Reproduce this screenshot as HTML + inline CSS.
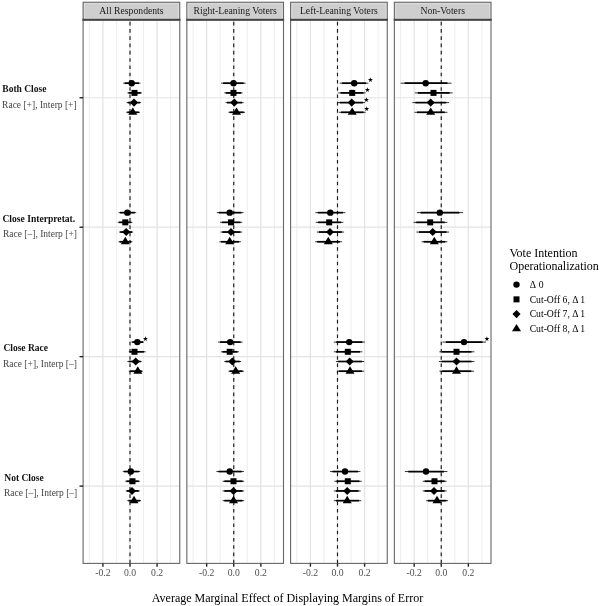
<!DOCTYPE html>
<html><head><meta charset="utf-8"><title>Average Marginal Effect of Displaying Margins of Error</title>
<style>html,body{margin:0;padding:0;background:#fff}svg{display:block}text{font-family:"Liberation Serif","Times New Roman",serif}</style></head><body>
<svg width="600" height="606" viewBox="0 0 600 606">
<rect width="600" height="606" fill="#fff"/>
<g>
<rect x="83.1" y="19.75" width="96.65" height="543.65" fill="#fff"/>
<line x1="89.35" x2="89.35" y1="19.75" y2="563.4" stroke="#e6e6e6" stroke-width="0.7"/>
<line x1="116.45" x2="116.45" y1="19.75" y2="563.4" stroke="#e6e6e6" stroke-width="0.7"/>
<line x1="143.55" x2="143.55" y1="19.75" y2="563.4" stroke="#e6e6e6" stroke-width="0.7"/>
<line x1="170.65" x2="170.65" y1="19.75" y2="563.4" stroke="#e6e6e6" stroke-width="0.7"/>
<line x1="102.90" x2="102.90" y1="19.75" y2="563.4" stroke="#e3e3e3" stroke-width="1.2"/>
<line x1="130.00" x2="130.00" y1="19.75" y2="563.4" stroke="#e3e3e3" stroke-width="1.2"/>
<line x1="157.10" x2="157.10" y1="19.75" y2="563.4" stroke="#e3e3e3" stroke-width="1.2"/>
<line x1="83.1" x2="179.75" y1="97.75" y2="97.75" stroke="#e3e3e3" stroke-width="1.2"/>
<line x1="83.1" x2="179.75" y1="227.2" y2="227.2" stroke="#e3e3e3" stroke-width="1.2"/>
<line x1="83.1" x2="179.75" y1="356.65" y2="356.65" stroke="#e3e3e3" stroke-width="1.2"/>
<line x1="83.1" x2="179.75" y1="486.1" y2="486.1" stroke="#e3e3e3" stroke-width="1.2"/>
<line x1="130.0" x2="130.0" y1="563.4" y2="19.75" stroke="#1a1a1a" stroke-width="1.15" stroke-dasharray="3.635 3.635"/>
<line x1="123.30" x2="140.40" y1="83.19" y2="83.19" stroke="#000" stroke-width="0.8"/>
<line x1="124.64" x2="139.01" y1="83.19" y2="83.19" stroke="#000" stroke-width="1.7"/>
<circle cx="131.70" cy="83.19" r="3.20"/>
<line x1="127.40" x2="141.90" y1="92.90" y2="92.90" stroke="#000" stroke-width="0.8"/>
<line x1="128.54" x2="140.72" y1="92.90" y2="92.90" stroke="#000" stroke-width="1.7"/>
<rect x="131.50" y="89.90" width="6.00" height="6.00"/>
<line x1="126.60" x2="141.10" y1="102.60" y2="102.60" stroke="#000" stroke-width="0.8"/>
<line x1="127.78" x2="139.96" y1="102.60" y2="102.60" stroke="#000" stroke-width="1.7"/>
<path d="M129.95 102.60L134.00 98.55L138.05 102.60L134.00 106.65Z"/>
<line x1="126.30" x2="139.90" y1="112.31" y2="112.31" stroke="#000" stroke-width="0.8"/>
<line x1="127.34" x2="138.76" y1="112.31" y2="112.31" stroke="#000" stroke-width="1.7"/>
<path d="M128.30 114.81L132.80 107.41L137.30 114.81Z"/>
<line x1="118.60" x2="136.20" y1="212.64" y2="212.64" stroke="#000" stroke-width="0.8"/>
<line x1="119.99" x2="134.78" y1="212.64" y2="212.64" stroke="#000" stroke-width="1.7"/>
<circle cx="127.30" cy="212.64" r="3.20"/>
<line x1="117.80" x2="132.40" y1="222.35" y2="222.35" stroke="#000" stroke-width="0.8"/>
<line x1="119.00" x2="131.26" y1="222.35" y2="222.35" stroke="#000" stroke-width="1.7"/>
<rect x="122.30" y="219.35" width="6.00" height="6.00"/>
<line x1="119.10" x2="133.20" y1="232.05" y2="232.05" stroke="#000" stroke-width="0.8"/>
<line x1="120.24" x2="132.08" y1="232.05" y2="232.05" stroke="#000" stroke-width="1.7"/>
<path d="M122.15 232.05L126.20 228.00L130.25 232.05L126.20 236.10Z"/>
<line x1="118.60" x2="132.40" y1="241.76" y2="241.76" stroke="#000" stroke-width="0.8"/>
<line x1="119.67" x2="131.26" y1="241.76" y2="241.76" stroke="#000" stroke-width="1.7"/>
<path d="M120.80 244.26L125.30 236.86L129.80 244.26Z"/>
<line x1="131.30" x2="144.10" y1="342.09" y2="342.09" stroke="#000" stroke-width="0.8"/>
<line x1="132.26" x2="143.01" y1="342.09" y2="342.09" stroke="#000" stroke-width="1.7"/>
<circle cx="137.30" cy="342.09" r="3.20"/>
<text x="145.30" y="341.00" font-size="6.5" text-anchor="middle" fill="#000" style="font-family:'DejaVu Sans',sans-serif">★</text>
<line x1="128.80" x2="145.70" y1="351.80" y2="351.80" stroke="#000" stroke-width="0.8"/>
<line x1="129.71" x2="143.91" y1="351.80" y2="351.80" stroke="#000" stroke-width="1.7"/>
<rect x="131.50" y="348.80" width="6.00" height="6.00"/>
<line x1="127.40" x2="141.60" y1="361.50" y2="361.50" stroke="#000" stroke-width="0.8"/>
<line x1="128.73" x2="140.66" y1="361.50" y2="361.50" stroke="#000" stroke-width="1.7"/>
<path d="M131.65 361.50L135.70 357.45L139.75 361.50L135.70 365.55Z"/>
<line x1="128.80" x2="142.70" y1="371.21" y2="371.21" stroke="#000" stroke-width="0.8"/>
<line x1="130.24" x2="141.92" y1="371.21" y2="371.21" stroke="#000" stroke-width="1.7"/>
<path d="M133.30 373.71L137.80 366.31L142.30 373.71Z"/>
<line x1="122.80" x2="140.20" y1="471.54" y2="471.54" stroke="#000" stroke-width="0.8"/>
<line x1="124.08" x2="138.70" y1="471.54" y2="471.54" stroke="#000" stroke-width="1.7"/>
<circle cx="130.80" cy="471.54" r="3.20"/>
<line x1="125.30" x2="139.90" y1="481.25" y2="481.25" stroke="#000" stroke-width="0.8"/>
<line x1="126.45" x2="138.72" y1="481.25" y2="481.25" stroke="#000" stroke-width="1.7"/>
<rect x="129.50" y="478.25" width="6.00" height="6.00"/>
<line x1="125.80" x2="139.90" y1="490.95" y2="490.95" stroke="#000" stroke-width="0.8"/>
<line x1="126.79" x2="138.64" y1="490.95" y2="490.95" stroke="#000" stroke-width="1.7"/>
<path d="M127.95 490.95L132.00 486.90L136.05 490.95L132.00 495.00Z"/>
<line x1="127.40" x2="141.10" y1="500.66" y2="500.66" stroke="#000" stroke-width="0.8"/>
<line x1="128.46" x2="139.96" y1="500.66" y2="500.66" stroke="#000" stroke-width="1.7"/>
<path d="M129.50 503.16L134.00 495.76L138.50 503.16Z"/>
<rect x="83.1" y="19.75" width="96.65" height="543.65" fill="none" stroke="#666" stroke-width="1.1"/>
<rect x="83.1" y="2.25" width="96.65" height="17.5" fill="#cecece" stroke="#666" stroke-width="1.1"/>
<rect x="84.45" y="3.70" width="93.95" height="14.60" fill="none" stroke="#dedede" stroke-width="0.9"/>
<line x1="82.5" x2="180.35" y1="19.75" y2="19.75" stroke="#444" stroke-width="1.9"/>
<text x="131.43" y="14" font-size="9.7" text-anchor="middle" fill="#1a1a1a">All Respondents</text>
<line x1="102.90" x2="102.90" y1="563.4" y2="566.6999999999999" stroke="#222" stroke-width="1.4"/>
<text x="102.90" y="575.6" font-size="9.7" text-anchor="middle" fill="#4d4d4d">-0.2</text>
<line x1="130.00" x2="130.00" y1="563.4" y2="566.6999999999999" stroke="#222" stroke-width="1.4"/>
<text x="130.00" y="575.6" font-size="9.7" text-anchor="middle" fill="#4d4d4d">0.0</text>
<line x1="157.10" x2="157.10" y1="563.4" y2="566.6999999999999" stroke="#222" stroke-width="1.4"/>
<text x="157.10" y="575.6" font-size="9.7" text-anchor="middle" fill="#4d4d4d">0.2</text>
</g>
<g>
<rect x="186.85" y="19.75" width="96.65" height="543.65" fill="#fff"/>
<line x1="193.10" x2="193.10" y1="19.75" y2="563.4" stroke="#e6e6e6" stroke-width="0.7"/>
<line x1="220.20" x2="220.20" y1="19.75" y2="563.4" stroke="#e6e6e6" stroke-width="0.7"/>
<line x1="247.30" x2="247.30" y1="19.75" y2="563.4" stroke="#e6e6e6" stroke-width="0.7"/>
<line x1="274.40" x2="274.40" y1="19.75" y2="563.4" stroke="#e6e6e6" stroke-width="0.7"/>
<line x1="206.65" x2="206.65" y1="19.75" y2="563.4" stroke="#e3e3e3" stroke-width="1.2"/>
<line x1="233.75" x2="233.75" y1="19.75" y2="563.4" stroke="#e3e3e3" stroke-width="1.2"/>
<line x1="260.85" x2="260.85" y1="19.75" y2="563.4" stroke="#e3e3e3" stroke-width="1.2"/>
<line x1="186.85" x2="283.5" y1="97.75" y2="97.75" stroke="#e3e3e3" stroke-width="1.2"/>
<line x1="186.85" x2="283.5" y1="227.2" y2="227.2" stroke="#e3e3e3" stroke-width="1.2"/>
<line x1="186.85" x2="283.5" y1="356.65" y2="356.65" stroke="#e3e3e3" stroke-width="1.2"/>
<line x1="186.85" x2="283.5" y1="486.1" y2="486.1" stroke="#e3e3e3" stroke-width="1.2"/>
<line x1="233.75" x2="233.75" y1="563.4" y2="19.75" stroke="#1a1a1a" stroke-width="1.15" stroke-dasharray="3.635 3.635"/>
<line x1="221.10" x2="245.60" y1="83.19" y2="83.19" stroke="#000" stroke-width="0.8"/>
<line x1="223.08" x2="243.66" y1="83.19" y2="83.19" stroke="#000" stroke-width="1.7"/>
<circle cx="233.50" cy="83.19" r="3.20"/>
<line x1="224.30" x2="242.60" y1="92.90" y2="92.90" stroke="#000" stroke-width="0.8"/>
<line x1="225.77" x2="241.14" y1="92.90" y2="92.90" stroke="#000" stroke-width="1.7"/>
<rect x="230.50" y="89.90" width="6.00" height="6.00"/>
<line x1="225.60" x2="243.60" y1="102.60" y2="102.60" stroke="#000" stroke-width="0.8"/>
<line x1="226.99" x2="242.11" y1="102.60" y2="102.60" stroke="#000" stroke-width="1.7"/>
<path d="M230.25 102.60L234.30 98.55L238.35 102.60L234.30 106.65Z"/>
<line x1="228.40" x2="245.10" y1="112.31" y2="112.31" stroke="#000" stroke-width="0.8"/>
<line x1="229.70" x2="243.72" y1="112.31" y2="112.31" stroke="#000" stroke-width="1.7"/>
<path d="M232.00 114.81L236.50 107.41L241.00 114.81Z"/>
<line x1="216.80" x2="243.60" y1="212.64" y2="212.64" stroke="#000" stroke-width="0.8"/>
<line x1="218.86" x2="241.38" y1="212.64" y2="212.64" stroke="#000" stroke-width="1.7"/>
<circle cx="229.70" cy="212.64" r="3.20"/>
<line x1="220.10" x2="242.20" y1="222.35" y2="222.35" stroke="#000" stroke-width="0.8"/>
<line x1="221.84" x2="240.41" y1="222.35" y2="222.35" stroke="#000" stroke-width="1.7"/>
<rect x="228.00" y="219.35" width="6.00" height="6.00"/>
<line x1="220.60" x2="242.20" y1="232.05" y2="232.05" stroke="#000" stroke-width="0.8"/>
<line x1="222.26" x2="240.41" y1="232.05" y2="232.05" stroke="#000" stroke-width="1.7"/>
<path d="M226.95 232.05L231.00 228.00L235.05 232.05L231.00 236.10Z"/>
<line x1="219.40" x2="240.90" y1="241.76" y2="241.76" stroke="#000" stroke-width="0.8"/>
<line x1="221.05" x2="239.11" y1="241.76" y2="241.76" stroke="#000" stroke-width="1.7"/>
<path d="M225.20 244.26L229.70 236.86L234.20 244.26Z"/>
<line x1="218.10" x2="242.60" y1="342.09" y2="342.09" stroke="#000" stroke-width="0.8"/>
<line x1="220.04" x2="240.62" y1="342.09" y2="342.09" stroke="#000" stroke-width="1.7"/>
<circle cx="230.20" cy="342.09" r="3.20"/>
<line x1="221.10" x2="238.90" y1="351.80" y2="351.80" stroke="#000" stroke-width="0.8"/>
<line x1="222.48" x2="237.43" y1="351.80" y2="351.80" stroke="#000" stroke-width="1.7"/>
<rect x="226.70" y="348.80" width="6.00" height="6.00"/>
<line x1="224.30" x2="241.10" y1="361.50" y2="361.50" stroke="#000" stroke-width="0.8"/>
<line x1="225.58" x2="239.69" y1="361.50" y2="361.50" stroke="#000" stroke-width="1.7"/>
<path d="M228.25 361.50L232.30 357.45L236.35 361.50L232.30 365.55Z"/>
<line x1="228.40" x2="243.90" y1="371.21" y2="371.21" stroke="#000" stroke-width="0.8"/>
<line x1="229.57" x2="242.59" y1="371.21" y2="371.21" stroke="#000" stroke-width="1.7"/>
<path d="M231.20 373.71L235.70 366.31L240.20 373.71Z"/>
<line x1="216.40" x2="243.90" y1="471.54" y2="471.54" stroke="#000" stroke-width="0.8"/>
<line x1="218.53" x2="241.63" y1="471.54" y2="471.54" stroke="#000" stroke-width="1.7"/>
<circle cx="229.70" cy="471.54" r="3.20"/>
<line x1="222.60" x2="244.20" y1="481.25" y2="481.25" stroke="#000" stroke-width="0.8"/>
<line x1="224.34" x2="242.49" y1="481.25" y2="481.25" stroke="#000" stroke-width="1.7"/>
<rect x="230.50" y="478.25" width="6.00" height="6.00"/>
<line x1="222.60" x2="244.20" y1="490.95" y2="490.95" stroke="#000" stroke-width="0.8"/>
<line x1="224.34" x2="242.49" y1="490.95" y2="490.95" stroke="#000" stroke-width="1.7"/>
<path d="M229.45 490.95L233.50 486.90L237.55 490.95L233.50 495.00Z"/>
<line x1="222.60" x2="244.20" y1="500.66" y2="500.66" stroke="#000" stroke-width="0.8"/>
<line x1="224.34" x2="242.49" y1="500.66" y2="500.66" stroke="#000" stroke-width="1.7"/>
<path d="M229.00 503.16L233.50 495.76L238.00 503.16Z"/>
<rect x="186.85" y="19.75" width="96.65" height="543.65" fill="none" stroke="#666" stroke-width="1.1"/>
<rect x="186.85" y="2.25" width="96.65" height="17.5" fill="#cecece" stroke="#666" stroke-width="1.1"/>
<rect x="188.20" y="3.70" width="93.95" height="14.60" fill="none" stroke="#dedede" stroke-width="0.9"/>
<line x1="186.25" x2="284.1" y1="19.75" y2="19.75" stroke="#444" stroke-width="1.9"/>
<text x="235.18" y="14" font-size="9.7" text-anchor="middle" fill="#1a1a1a">Right-Leaning Voters</text>
<line x1="206.65" x2="206.65" y1="563.4" y2="566.6999999999999" stroke="#222" stroke-width="1.4"/>
<text x="206.65" y="575.6" font-size="9.7" text-anchor="middle" fill="#4d4d4d">-0.2</text>
<line x1="233.75" x2="233.75" y1="563.4" y2="566.6999999999999" stroke="#222" stroke-width="1.4"/>
<text x="233.75" y="575.6" font-size="9.7" text-anchor="middle" fill="#4d4d4d">0.0</text>
<line x1="260.85" x2="260.85" y1="563.4" y2="566.6999999999999" stroke="#222" stroke-width="1.4"/>
<text x="260.85" y="575.6" font-size="9.7" text-anchor="middle" fill="#4d4d4d">0.2</text>
</g>
<g>
<rect x="290.6" y="19.75" width="96.65" height="543.65" fill="#fff"/>
<line x1="296.85" x2="296.85" y1="19.75" y2="563.4" stroke="#e6e6e6" stroke-width="0.7"/>
<line x1="323.95" x2="323.95" y1="19.75" y2="563.4" stroke="#e6e6e6" stroke-width="0.7"/>
<line x1="351.05" x2="351.05" y1="19.75" y2="563.4" stroke="#e6e6e6" stroke-width="0.7"/>
<line x1="378.15" x2="378.15" y1="19.75" y2="563.4" stroke="#e6e6e6" stroke-width="0.7"/>
<line x1="310.40" x2="310.40" y1="19.75" y2="563.4" stroke="#e3e3e3" stroke-width="1.2"/>
<line x1="337.50" x2="337.50" y1="19.75" y2="563.4" stroke="#e3e3e3" stroke-width="1.2"/>
<line x1="364.60" x2="364.60" y1="19.75" y2="563.4" stroke="#e3e3e3" stroke-width="1.2"/>
<line x1="290.6" x2="387.25" y1="97.75" y2="97.75" stroke="#e3e3e3" stroke-width="1.2"/>
<line x1="290.6" x2="387.25" y1="227.2" y2="227.2" stroke="#e3e3e3" stroke-width="1.2"/>
<line x1="290.6" x2="387.25" y1="356.65" y2="356.65" stroke="#e3e3e3" stroke-width="1.2"/>
<line x1="290.6" x2="387.25" y1="486.1" y2="486.1" stroke="#e3e3e3" stroke-width="1.2"/>
<line x1="337.5" x2="337.5" y1="563.4" y2="19.75" stroke="#1a1a1a" stroke-width="1.15" stroke-dasharray="3.635 3.635"/>
<line x1="339.60" x2="368.40" y1="83.19" y2="83.19" stroke="#000" stroke-width="0.8"/>
<line x1="341.94" x2="366.13" y1="83.19" y2="83.19" stroke="#000" stroke-width="1.7"/>
<circle cx="354.20" cy="83.19" r="3.20"/>
<text x="370.50" y="82.00" font-size="6.5" text-anchor="middle" fill="#000" style="font-family:'DejaVu Sans',sans-serif">★</text>
<line x1="338.30" x2="365.70" y1="92.90" y2="92.90" stroke="#000" stroke-width="0.8"/>
<line x1="340.52" x2="363.54" y1="92.90" y2="92.90" stroke="#000" stroke-width="1.7"/>
<rect x="349.20" y="89.90" width="6.00" height="6.00"/>
<text x="367.50" y="92.00" font-size="6.5" text-anchor="middle" fill="#000" style="font-family:'DejaVu Sans',sans-serif">★</text>
<line x1="337.40" x2="365.10" y1="102.60" y2="102.60" stroke="#000" stroke-width="0.8"/>
<line x1="339.69" x2="362.96" y1="102.60" y2="102.60" stroke="#000" stroke-width="1.7"/>
<path d="M347.65 102.60L351.70 98.55L355.75 102.60L351.70 106.65Z"/>
<text x="366.30" y="101.70" font-size="6.5" text-anchor="middle" fill="#000" style="font-family:'DejaVu Sans',sans-serif">★</text>
<line x1="338.80" x2="365.70" y1="112.31" y2="112.31" stroke="#000" stroke-width="0.8"/>
<line x1="340.94" x2="363.54" y1="112.31" y2="112.31" stroke="#000" stroke-width="1.7"/>
<path d="M347.70 114.81L352.20 107.41L356.70 114.81Z"/>
<text x="366.70" y="111.20" font-size="6.5" text-anchor="middle" fill="#000" style="font-family:'DejaVu Sans',sans-serif">★</text>
<line x1="315.40" x2="345.40" y1="212.64" y2="212.64" stroke="#000" stroke-width="0.8"/>
<line x1="317.78" x2="342.98" y1="212.64" y2="212.64" stroke="#000" stroke-width="1.7"/>
<circle cx="330.30" cy="212.64" r="3.20"/>
<line x1="315.80" x2="343.40" y1="222.35" y2="222.35" stroke="#000" stroke-width="0.8"/>
<line x1="317.94" x2="341.13" y1="222.35" y2="222.35" stroke="#000" stroke-width="1.7"/>
<rect x="326.20" y="219.35" width="6.00" height="6.00"/>
<line x1="316.80" x2="344.10" y1="232.05" y2="232.05" stroke="#000" stroke-width="0.8"/>
<line x1="318.91" x2="341.84" y1="232.05" y2="232.05" stroke="#000" stroke-width="1.7"/>
<path d="M325.95 232.05L330.00 228.00L334.05 232.05L330.00 236.10Z"/>
<line x1="315.10" x2="342.10" y1="241.76" y2="241.76" stroke="#000" stroke-width="0.8"/>
<line x1="317.21" x2="339.89" y1="241.76" y2="241.76" stroke="#000" stroke-width="1.7"/>
<path d="M323.80 244.26L328.30 236.86L332.80 244.26Z"/>
<line x1="333.80" x2="364.90" y1="342.09" y2="342.09" stroke="#000" stroke-width="0.8"/>
<line x1="336.26" x2="362.39" y1="342.09" y2="342.09" stroke="#000" stroke-width="1.7"/>
<circle cx="349.20" cy="342.09" r="3.20"/>
<line x1="333.80" x2="362.40" y1="351.80" y2="351.80" stroke="#000" stroke-width="0.8"/>
<line x1="336.04" x2="360.06" y1="351.80" y2="351.80" stroke="#000" stroke-width="1.7"/>
<rect x="344.80" y="348.80" width="6.00" height="6.00"/>
<line x1="335.90" x2="364.20" y1="361.50" y2="361.50" stroke="#000" stroke-width="0.8"/>
<line x1="338.11" x2="361.88" y1="361.50" y2="361.50" stroke="#000" stroke-width="1.7"/>
<path d="M345.65 361.50L349.70 357.45L353.75 361.50L349.70 365.55Z"/>
<line x1="336.80" x2="364.20" y1="371.21" y2="371.21" stroke="#000" stroke-width="0.8"/>
<line x1="338.91" x2="361.93" y1="371.21" y2="371.21" stroke="#000" stroke-width="1.7"/>
<path d="M345.50 373.71L350.00 366.31L354.50 373.71Z"/>
<line x1="330.10" x2="360.40" y1="471.54" y2="471.54" stroke="#000" stroke-width="0.8"/>
<line x1="332.48" x2="357.94" y1="471.54" y2="471.54" stroke="#000" stroke-width="1.7"/>
<circle cx="345.00" cy="471.54" r="3.20"/>
<line x1="334.30" x2="361.70" y1="481.25" y2="481.25" stroke="#000" stroke-width="0.8"/>
<line x1="336.46" x2="359.48" y1="481.25" y2="481.25" stroke="#000" stroke-width="1.7"/>
<rect x="344.80" y="478.25" width="6.00" height="6.00"/>
<line x1="333.80" x2="360.70" y1="490.95" y2="490.95" stroke="#000" stroke-width="0.8"/>
<line x1="335.94" x2="358.54" y1="490.95" y2="490.95" stroke="#000" stroke-width="1.7"/>
<path d="M343.15 490.95L347.20 486.90L351.25 490.95L347.20 495.00Z"/>
<line x1="333.80" x2="361.20" y1="500.66" y2="500.66" stroke="#000" stroke-width="0.8"/>
<line x1="335.94" x2="358.96" y1="500.66" y2="500.66" stroke="#000" stroke-width="1.7"/>
<path d="M342.70 503.16L347.20 495.76L351.70 503.16Z"/>
<rect x="290.6" y="19.75" width="96.65" height="543.65" fill="none" stroke="#666" stroke-width="1.1"/>
<rect x="290.6" y="2.25" width="96.65" height="17.5" fill="#cecece" stroke="#666" stroke-width="1.1"/>
<rect x="291.95" y="3.70" width="93.95" height="14.60" fill="none" stroke="#dedede" stroke-width="0.9"/>
<line x1="290.0" x2="387.85" y1="19.75" y2="19.75" stroke="#444" stroke-width="1.9"/>
<text x="338.93" y="14" font-size="9.7" text-anchor="middle" fill="#1a1a1a">Left-Leaning Voters</text>
<line x1="310.40" x2="310.40" y1="563.4" y2="566.6999999999999" stroke="#222" stroke-width="1.4"/>
<text x="310.40" y="575.6" font-size="9.7" text-anchor="middle" fill="#4d4d4d">-0.2</text>
<line x1="337.50" x2="337.50" y1="563.4" y2="566.6999999999999" stroke="#222" stroke-width="1.4"/>
<text x="337.50" y="575.6" font-size="9.7" text-anchor="middle" fill="#4d4d4d">0.0</text>
<line x1="364.60" x2="364.60" y1="563.4" y2="566.6999999999999" stroke="#222" stroke-width="1.4"/>
<text x="364.60" y="575.6" font-size="9.7" text-anchor="middle" fill="#4d4d4d">0.2</text>
</g>
<g>
<rect x="394.35" y="19.75" width="96.65" height="543.65" fill="#fff"/>
<line x1="400.60" x2="400.60" y1="19.75" y2="563.4" stroke="#e6e6e6" stroke-width="0.7"/>
<line x1="427.70" x2="427.70" y1="19.75" y2="563.4" stroke="#e6e6e6" stroke-width="0.7"/>
<line x1="454.80" x2="454.80" y1="19.75" y2="563.4" stroke="#e6e6e6" stroke-width="0.7"/>
<line x1="481.90" x2="481.90" y1="19.75" y2="563.4" stroke="#e6e6e6" stroke-width="0.7"/>
<line x1="414.15" x2="414.15" y1="19.75" y2="563.4" stroke="#e3e3e3" stroke-width="1.2"/>
<line x1="441.25" x2="441.25" y1="19.75" y2="563.4" stroke="#e3e3e3" stroke-width="1.2"/>
<line x1="468.35" x2="468.35" y1="19.75" y2="563.4" stroke="#e3e3e3" stroke-width="1.2"/>
<line x1="394.35" x2="491.0" y1="97.75" y2="97.75" stroke="#e3e3e3" stroke-width="1.2"/>
<line x1="394.35" x2="491.0" y1="227.2" y2="227.2" stroke="#e3e3e3" stroke-width="1.2"/>
<line x1="394.35" x2="491.0" y1="356.65" y2="356.65" stroke="#e3e3e3" stroke-width="1.2"/>
<line x1="394.35" x2="491.0" y1="486.1" y2="486.1" stroke="#e3e3e3" stroke-width="1.2"/>
<line x1="441.25" x2="441.25" y1="563.4" y2="19.75" stroke="#1a1a1a" stroke-width="1.15" stroke-dasharray="3.635 3.635"/>
<line x1="400.60" x2="451.60" y1="83.19" y2="83.19" stroke="#000" stroke-width="0.8"/>
<line x1="404.62" x2="447.46" y1="83.19" y2="83.19" stroke="#000" stroke-width="1.7"/>
<circle cx="425.70" cy="83.19" r="3.20"/>
<line x1="414.80" x2="452.70" y1="92.90" y2="92.90" stroke="#000" stroke-width="0.8"/>
<line x1="417.79" x2="449.63" y1="92.90" y2="92.90" stroke="#000" stroke-width="1.7"/>
<rect x="430.50" y="89.90" width="6.00" height="6.00"/>
<line x1="412.40" x2="449.10" y1="102.60" y2="102.60" stroke="#000" stroke-width="0.8"/>
<line x1="415.33" x2="446.16" y1="102.60" y2="102.60" stroke="#000" stroke-width="1.7"/>
<path d="M426.65 102.60L430.70 98.55L434.75 102.60L430.70 106.65Z"/>
<line x1="414.40" x2="447.40" y1="112.31" y2="112.31" stroke="#000" stroke-width="0.8"/>
<line x1="417.01" x2="444.73" y1="112.31" y2="112.31" stroke="#000" stroke-width="1.7"/>
<path d="M426.20 114.81L430.70 107.41L435.20 114.81Z"/>
<line x1="416.90" x2="463.10" y1="212.64" y2="212.64" stroke="#000" stroke-width="0.8"/>
<line x1="420.56" x2="459.37" y1="212.64" y2="212.64" stroke="#000" stroke-width="1.7"/>
<circle cx="439.80" cy="212.64" r="3.20"/>
<line x1="413.60" x2="447.40" y1="222.35" y2="222.35" stroke="#000" stroke-width="0.8"/>
<line x1="416.26" x2="444.65" y1="222.35" y2="222.35" stroke="#000" stroke-width="1.7"/>
<rect x="427.20" y="219.35" width="6.00" height="6.00"/>
<line x1="416.40" x2="449.10" y1="232.05" y2="232.05" stroke="#000" stroke-width="0.8"/>
<line x1="419.01" x2="446.48" y1="232.05" y2="232.05" stroke="#000" stroke-width="1.7"/>
<path d="M428.65 232.05L432.70 228.00L436.75 232.05L432.70 236.10Z"/>
<line x1="421.60" x2="447.40" y1="241.76" y2="241.76" stroke="#000" stroke-width="0.8"/>
<line x1="423.63" x2="445.30" y1="241.76" y2="241.76" stroke="#000" stroke-width="1.7"/>
<path d="M429.80 244.26L434.30 236.86L438.80 244.26Z"/>
<line x1="442.40" x2="486.10" y1="342.09" y2="342.09" stroke="#000" stroke-width="0.8"/>
<line x1="445.86" x2="482.56" y1="342.09" y2="342.09" stroke="#000" stroke-width="1.7"/>
<circle cx="464.00" cy="342.09" r="3.20"/>
<text x="487.00" y="341.00" font-size="6.5" text-anchor="middle" fill="#000" style="font-family:'DejaVu Sans',sans-serif">★</text>
<line x1="439.40" x2="474.40" y1="351.80" y2="351.80" stroke="#000" stroke-width="0.8"/>
<line x1="442.14" x2="471.54" y1="351.80" y2="351.80" stroke="#000" stroke-width="1.7"/>
<rect x="453.50" y="348.80" width="6.00" height="6.00"/>
<line x1="438.90" x2="474.40" y1="361.50" y2="361.50" stroke="#000" stroke-width="0.8"/>
<line x1="441.72" x2="471.54" y1="361.50" y2="361.50" stroke="#000" stroke-width="1.7"/>
<path d="M452.45 361.50L456.50 357.45L460.55 361.50L456.50 365.55Z"/>
<line x1="439.40" x2="474.10" y1="371.21" y2="371.21" stroke="#000" stroke-width="0.8"/>
<line x1="442.14" x2="471.28" y1="371.21" y2="371.21" stroke="#000" stroke-width="1.7"/>
<path d="M452.00 373.71L456.50 366.31L461.00 373.71Z"/>
<line x1="404.90" x2="447.40" y1="471.54" y2="471.54" stroke="#000" stroke-width="0.8"/>
<line x1="408.28" x2="443.98" y1="471.54" y2="471.54" stroke="#000" stroke-width="1.7"/>
<circle cx="426.00" cy="471.54" r="3.20"/>
<line x1="422.80" x2="446.60" y1="481.25" y2="481.25" stroke="#000" stroke-width="0.8"/>
<line x1="424.67" x2="444.66" y1="481.25" y2="481.25" stroke="#000" stroke-width="1.7"/>
<rect x="431.50" y="478.25" width="6.00" height="6.00"/>
<line x1="422.80" x2="446.60" y1="490.95" y2="490.95" stroke="#000" stroke-width="0.8"/>
<line x1="424.59" x2="444.58" y1="490.95" y2="490.95" stroke="#000" stroke-width="1.7"/>
<path d="M429.95 490.95L434.00 486.90L438.05 490.95L434.00 495.00Z"/>
<line x1="426.10" x2="448.10" y1="500.66" y2="500.66" stroke="#000" stroke-width="0.8"/>
<line x1="427.84" x2="446.32" y1="500.66" y2="500.66" stroke="#000" stroke-width="1.7"/>
<path d="M432.50 503.16L437.00 495.76L441.50 503.16Z"/>
<rect x="394.35" y="19.75" width="96.65" height="543.65" fill="none" stroke="#666" stroke-width="1.1"/>
<rect x="394.35" y="2.25" width="96.65" height="17.5" fill="#cecece" stroke="#666" stroke-width="1.1"/>
<rect x="395.70" y="3.70" width="93.95" height="14.60" fill="none" stroke="#dedede" stroke-width="0.9"/>
<line x1="393.75" x2="491.6" y1="19.75" y2="19.75" stroke="#444" stroke-width="1.9"/>
<text x="442.68" y="14" font-size="9.7" text-anchor="middle" fill="#1a1a1a">Non-Voters</text>
<line x1="414.15" x2="414.15" y1="563.4" y2="566.6999999999999" stroke="#222" stroke-width="1.4"/>
<text x="414.15" y="575.6" font-size="9.7" text-anchor="middle" fill="#4d4d4d">-0.2</text>
<line x1="441.25" x2="441.25" y1="563.4" y2="566.6999999999999" stroke="#222" stroke-width="1.4"/>
<text x="441.25" y="575.6" font-size="9.7" text-anchor="middle" fill="#4d4d4d">0.0</text>
<line x1="468.35" x2="468.35" y1="563.4" y2="566.6999999999999" stroke="#222" stroke-width="1.4"/>
<text x="468.35" y="575.6" font-size="9.7" text-anchor="middle" fill="#4d4d4d">0.2</text>
</g>
<line x1="79.5" x2="83.1" y1="97.75" y2="97.75" stroke="#222" stroke-width="1.4"/>
<text x="2.3" y="92" font-size="9.5" font-weight="bold" fill="#111">Both Close</text>
<text x="2.1" y="108" font-size="9.5" fill="#444">Race [+], Interp [+]</text>
<line x1="79.5" x2="83.1" y1="227.2" y2="227.2" stroke="#222" stroke-width="1.4"/>
<text x="2.4" y="222" font-size="9.6" font-weight="bold" fill="#111">Close Interpretat.</text>
<text x="3.0" y="237" font-size="9.5" fill="#444">Race [–], Interp [+]</text>
<line x1="79.5" x2="83.1" y1="356.65" y2="356.65" stroke="#222" stroke-width="1.4"/>
<text x="3.4" y="351" font-size="9.5" font-weight="bold" fill="#111">Close Race</text>
<text x="3.0" y="367" font-size="9.5" fill="#444">Race [+], Interp [–]</text>
<line x1="79.5" x2="83.1" y1="486.1" y2="486.1" stroke="#222" stroke-width="1.4"/>
<text x="4.3" y="481" font-size="9.5" font-weight="bold" fill="#111">Not Close</text>
<text x="3.9" y="496" font-size="9.5" fill="#444">Race [–], Interp [–]</text>
<text x="287.5" y="602" font-size="12.0" text-anchor="middle" fill="#000">Average Marginal Effect of Displaying Margins of Error</text>
<text x="509.5" y="257" font-size="12.0" fill="#000">Vote Intention</text>
<text x="509.5" y="270" font-size="12.0" fill="#000">Operationalization</text>
<circle cx="516.50" cy="284.60" r="3.20"/>
<text x="529.65" y="288" font-size="9.7" fill="#000" word-spacing="1">Δ 0</text>
<rect x="513.50" y="296.35" width="6.00" height="6.00"/>
<text x="529.65" y="303" font-size="9.7" fill="#000">Cut-Off 6, Δ 1</text>
<path d="M512.45 314.10L516.50 310.05L520.55 314.10L516.50 318.15Z"/>
<text x="529.65" y="317" font-size="9.7" fill="#000">Cut-Off 7, Δ 1</text>
<path d="M512.00 331.35L516.50 323.95L521.00 331.35Z"/>
<text x="529.65" y="332" font-size="9.7" fill="#000">Cut-Off 8, Δ 1</text>
</svg></body></html>
